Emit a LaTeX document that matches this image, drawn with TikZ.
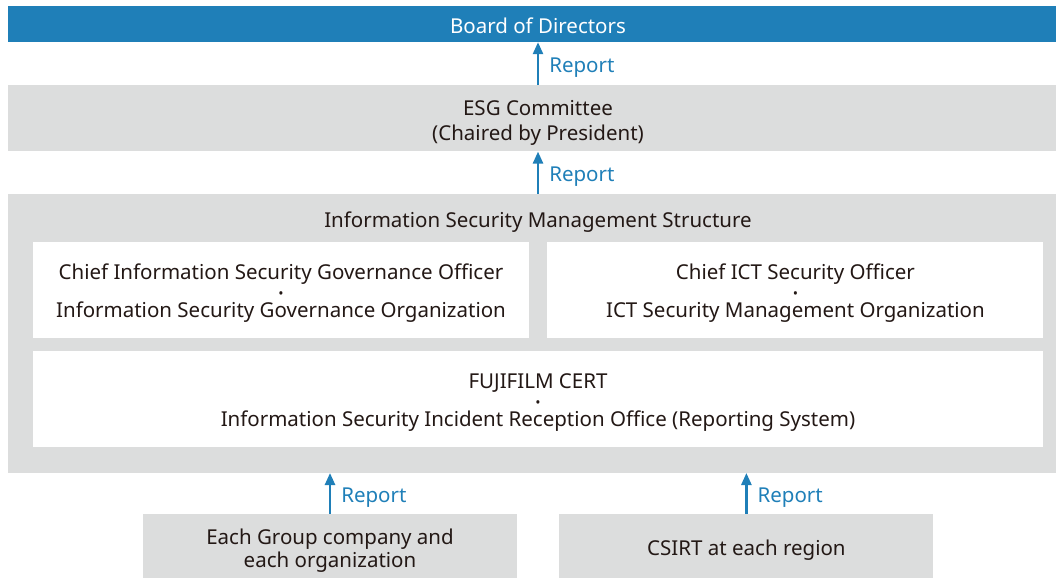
\documentclass[tikz,border=0pt]{standalone}
\usepackage{fontspec}
\setmainfont{Noto Sans}
\usetikzlibrary{arrows.meta, positioning}
\definecolor{fjblue}{RGB}{31,127,184}
\definecolor{fjgray}{RGB}{220,221,221}
\definecolor{fjtext}{RGB}{35,24,21}

\begin{document}
\begin{tikzpicture}[x=1pt, y=-1pt]

    \tikzset{
        band/.style={rectangle, fill=fjgray, minimum width=1060pt, inner sep=0pt, align=center, text=fjtext, font=\fontsize{20.5}{25}\selectfont},
        whiteBox/.style={rectangle, fill=white, minimum width=496pt, minimum height=96pt, inner sep=0pt, align=center, text=fjtext, font=\fontsize{20.5}{19}\selectfont},
        sourceBox/.style={rectangle, fill=fjgray, minimum width=374pt, minimum height=64pt, inner sep=0pt, align=center, text=fjtext, font=\fontsize{20.5}{23}\selectfont},
        lowText/.style={execute at begin node={\rule{0pt}{#1}}},
        reportArrow/.style={-{Triangle[length=12pt, width=10pt]}, line width=2.5pt, draw=fjblue},
        reportText/.style={midway, right=10pt, yshift=-4pt, inner sep=0pt, text=fjblue, font=\fontsize{20.5}{22}\selectfont}
    }

    \useasboundingbox (0,0) rectangle (1056,578);

    % Bands (top to bottom)
    \node[band, lowText=19.6pt, fill=fjblue, text=white, minimum height=36pt] (board) at (538,24) {Board of Directors};
    \node[band, minimum height=66pt, below=43pt of board] (esg) {\rule{0pt}{23.6pt}ESG Committee\\(Chaired by President)};
    \node[band, minimum height=279pt, below=42pt of esg] (iss) {};
    \node[text=fjtext, font=\fontsize{20.5}{22}\selectfont] (isstitle) at (538,222) {Information Security Management Structure};

    % Inside the structure
    \node[whiteBox] (gov) at (281,290) {\rule{0pt}{21pt}Chief Information Security Governance Officer\\{\fontsize{14}{19}\selectfont •}\\Information Security Governance Organization};
    \node[whiteBox, right=18pt of gov] (ict) {\rule{0pt}{21pt}Chief ICT Security Officer\\{\fontsize{14}{19}\selectfont •}\\ICT Security Management Organization};
    \node[whiteBox, minimum width=1010pt] (cert) at (538,399) {\rule{0pt}{21.6pt}FUJIFILM CERT\\{\fontsize{14}{19}\selectfont •}\\Information Security Incident Reception Office (Reporting System)};

    % Reporting sources
    \node[sourceBox] (group) at (330,546) {\rule{0pt}{24.6pt}Each Group company and\\each organization};
    \node[sourceBox, lowText=23.6pt, right=42pt of group] (csirt) {CSIRT at each region};

    % Reports
    \draw[reportArrow] (esg.north) -- node[reportText] {Report} (board.south);
    \draw[reportArrow] (iss.north) -- node[reportText] {Report} (esg.south);
    \draw[reportArrow] (group.north) -- node[reportText] {Report} (group.north |- iss.south);
    \draw[reportArrow] (csirt.north) -- node[reportText] {Report} (csirt.north |- iss.south);

\end{tikzpicture}
\end{document}
